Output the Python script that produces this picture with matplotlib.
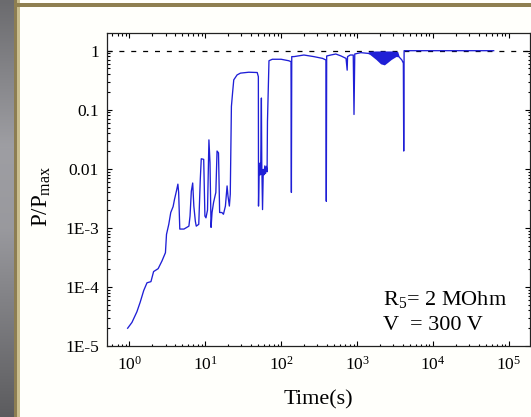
import numpy as np
import matplotlib
matplotlib.use("Agg")
import matplotlib.pyplot as plt
from matplotlib.patches import Rectangle
from matplotlib.ticker import FixedLocator, FixedFormatter, LogLocator, NullFormatter

# ---- data ----
time_s = [0.951, 1.084, 1.259, 1.390, 1.549, 1.710, 1.928, 2.089, 2.399, 2.692,
          2.992, 3.090, 3.311, 3.516, 3.776, 3.936, 4.169, 4.365, 4.467, 4.624,
          5.248, 6.095, 6.310, 6.561, 6.839, 7.079, 7.413, 7.621, 8.222, 8.610,
          8.872, 9.550, 9.908, 10.23, 10.72, 11.19, 11.56, 11.94, 12.30, 12.88,
          13.80, 14.32, 14.96, 15.49, 16.60, 17.38, 18.45, 19.41, 19.95, 20.80,
          21.38, 22.13, 23.01, 23.77, 26.30, 29.11, 37.50, 48.42, 50.12, 50.35,
          51.29, 52.48, 53.09, 53.70, 54.95, 55.59, 56.89, 58.21, 59.57, 60.95,
          62.37, 63.83, 65.31, 66.07, 69.18, 76.56, 100.0, 125.9, 134.9, 136.5,
          138.0, 147.9, 199.5, 269.2, 350.8, 389.0, 393.6, 398.1, 451.9, 524.8,
          616.6, 716.1, 741.3, 749.9, 812.8, 891.3, 912.0, 933.3, 1122, 1380,
          3548, 3890, 4074, 4121, 4169, 63100]
power_ratio = [2.0e-5, 2.51e-5, 3.80e-5, 5.50e-5, 8.71e-5, 1.175e-4, 1.23e-4, 1.82e-4, 2.04e-4, 2.75e-4,
               3.80e-4, 7.76e-4, 1.148e-3, 1.82e-3, 2.29e-3, 3.02e-3, 4.17e-3, 5.50e-3, 3.98e-3, 9.55e-4,
               9.55e-4, 1.07e-3, 1.585e-3, 4.17e-3, 5.75e-3, 2.34e-3, 1.29e-3, 1.07e-3, 1.15e-3, 6.61e-3,
               1.48e-2, 1.445e-2, 1.585e-3, 1.48e-3, 2.0e-3, 3.09e-2, 1.26e-2, 1.02e-3, 1.82e-3, 2.69e-3,
               3.98e-3, 2.0e-2, 1.86e-2, 1.82e-3, 1.82e-3, 1.70e-3, 2.34e-3, 5.13e-3, 3.47e-3, 2.34e-3,
               3.72e-3, 0.1138, 0.204, 0.321, 0.389, 0.417, 0.432, 0.427, 0.363, 2.34e-3,
               1.10e-2, 7.94e-3, 1.26e-2, 7.94e-3, 0.158, 1.26e-2, 2.04e-3, 9.77e-3, 7.94e-3, 1.12e-2,
               8.32e-3, 1.10e-2, 8.91e-3, 6.31e-2, 0.676, 0.716, 0.716, 0.676, 0.653, 3.98e-3,
               0.794, 0.794, 0.845, 0.794, 0.741, 0.697, 2.82e-3, 0.813, 0.845, 0.879,
               0.813, 0.741, 0.468, 0.794, 0.845, 0.845, 0.0832, 0.879, 0.927, 0.902,
               0.794, 0.697, 0.617, 0.020, 1.0, 1.0]

# dense oscillation band (upper / lower envelope)
band_time = [1380, 1462, 1778, 2042, 2291, 2512, 2818, 3428, 3548]
band_high = [0.93, 0.98, 0.99, 0.99, 0.99, 0.99, 0.99, 0.97, 0.85]
band_low = [0.90, 0.87, 0.71, 0.60, 0.575, 0.63, 0.71, 0.83, 0.79]

reference_level = 1.0

x_ticks = [1, 10, 100, 1e3, 1e4, 1e5]
x_tick_labels = [r"$10^{0}$", r"$10^{1}$", r"$10^{2}$", r"$10^{3}$", r"$10^{4}$", r"$10^{5}$"]
y_ticks = [1e-5, 1e-4, 1e-3, 1e-2, 1e-1, 1]
y_tick_labels = ["1E-5", "1E-4", "1E-3", "0.01", "0.1", "1"]

annotation_lines = [r"R$_{5}$= 2 MOhm", "V  = 300 V"]

# ---- style ----
plt.rcParams["font.family"] = ["Liberation Serif", "DejaVu Serif"]
plt.rcParams["mathtext.fontset"] = "custom"
plt.rcParams["mathtext.rm"] = "Liberation Serif"
plt.rcParams["mathtext.it"] = "Liberation Serif:italic"

W, H = 531, 417
fig = plt.figure(figsize=(W / 100, H / 100), dpi=100, facecolor="#fffffb")

# decorative frame (background)
bg = fig.add_axes([0, 0, 1, 1], zorder=-10)
bg.set_xlim(0, W)
bg.set_ylim(H, 0)
bg.axis("off")
yy = np.linspace(0, 1, 200)
gray_profile = np.interp(yy, [0, 0.35, 0.55, 1.0], [0.42, 0.62, 0.60, 0.36])
strip = np.dstack([gray_profile, gray_profile, gray_profile * 1.03]).reshape(200, 1, 3)
strip = np.clip(strip, 0, 1)
bg.imshow(strip, extent=[0, 13.5, H, 0], aspect="auto", interpolation="bilinear")
bg.add_patch(Rectangle((13.5, 0), 3.5, H, facecolor="#8c7d52", edgecolor="none"))
bg.add_patch(Rectangle((17, 0), 3, H, facecolor="#c9bd8e", edgecolor="none"))
bg.add_patch(Rectangle((13.5, 3.2), W, 3.6, facecolor="#8f7f50", edgecolor="none"))

# main axes
left_px, right_px, top_px, bottom_px = 107.3, 529.5, 33.3, 346.0
ax = fig.add_axes([left_px / W, 1 - bottom_px / H, (right_px - left_px) / W, (bottom_px - top_px) / H])
ax.set_facecolor("white")
ax.set_xscale("log")
ax.set_yscale("log")
ax.set_xlim(0.513, 1.87e5)
ax.set_ylim(1e-5, 1.97)

line_color = "#1f1fd6"
ax.axhline(reference_level, color="black", lw=0.9, dashes=(4, 5.5), zorder=1)
ax.fill_between(band_time, band_low, band_high, color=line_color, lw=0, zorder=2)
ax.plot(time_s, power_ratio, color=line_color, lw=0.95, zorder=3)

ax.xaxis.set_major_locator(FixedLocator(x_ticks))
ax.xaxis.set_major_formatter(FixedFormatter(x_tick_labels))
ax.xaxis.set_minor_locator(LogLocator(base=10, subs=np.arange(2, 10), numticks=20))
ax.xaxis.set_minor_formatter(NullFormatter())
ax.yaxis.set_major_locator(FixedLocator(y_ticks))
ax.yaxis.set_major_formatter(FixedFormatter(y_tick_labels))
ax.yaxis.set_minor_locator(LogLocator(base=10, subs=np.arange(2, 10), numticks=20))
ax.yaxis.set_minor_formatter(NullFormatter())

ax.tick_params(which="both", direction="in", top=True, right=True, width=0.8, colors="black")
ax.tick_params(which="major", length=3.5, labelsize=12.5)
ax.tick_params(which="minor", length=1.8)
ax.tick_params(axis="x", which="major", pad=7)
ax.tick_params(axis="y", which="major", pad=6)
for sp in ax.spines.values():
    sp.set_linewidth(0.9)
    sp.set_color("#222222")

ax.set_xlabel("Time(s)", fontsize=16)
ax.xaxis.set_label_coords(0.5, -0.142)
ax.set_ylabel(r"P/P$_{\mathrm{max}}$", fontsize=16.5)
ax.yaxis.set_label_coords(-0.128, 0.48)

ax.text(0.653, 0.131, annotation_lines[0], transform=ax.transAxes, fontsize=16, va="baseline", ha="left")
ax.text(0.653, 0.051, annotation_lines[1], transform=ax.transAxes, fontsize=16, va="baseline", ha="left")

fig.savefig("out.png", dpi=100, facecolor=fig.get_facecolor())
